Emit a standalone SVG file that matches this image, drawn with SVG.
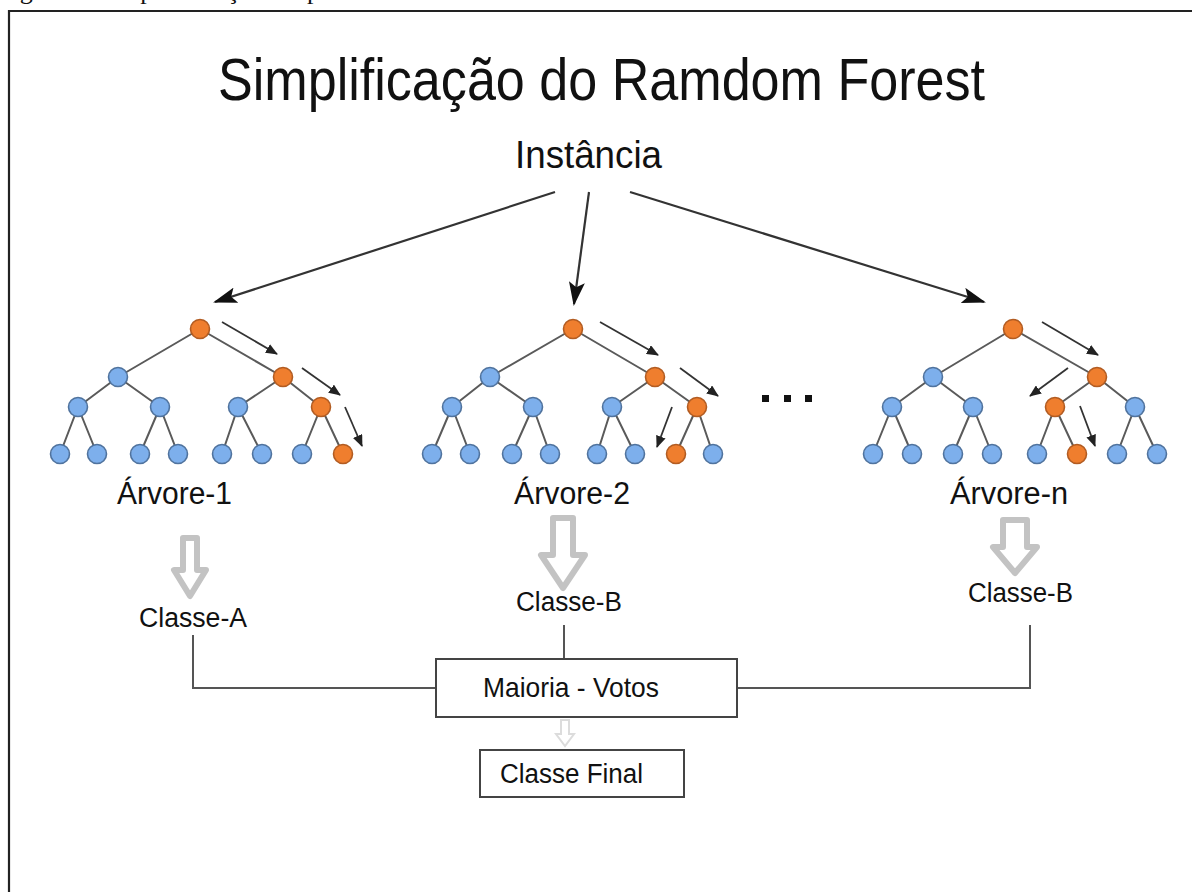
<svg xmlns="http://www.w3.org/2000/svg" width="1192" height="892" viewBox="0 0 1192 892">
<style>
  text { font-family: "Liberation Sans", Arial, sans-serif; fill: #111; }
  .cap { font-family: "Liberation Serif", "Times New Roman", serif; font-size: 26px; }
  .edge { stroke: #5a5a5a; stroke-width: 2; fill: none; }
  .b { fill: #7dafec; stroke: #50739e; stroke-width: 1.6; }
  .o { fill: #ef7e2e; stroke: #b25c22; stroke-width: 1.6; }
  .walk { stroke: #333; stroke-width: 1.8; fill: none; marker-end: url(#small); }
  .big { stroke: #333; stroke-width: 2.2; fill: none; marker-end: url(#head); }
  .hollow { fill: #fff; stroke: #c3c3c3; stroke-width: 6; stroke-linejoin: round; }
  .line { stroke: #555; stroke-width: 2; fill: none; }
  .box { fill: #fff; stroke: #444; stroke-width: 2; }
</style>
<defs>
  <marker id="head" viewBox="0 0 24 16" refX="22" refY="8" markerWidth="24" markerHeight="16" markerUnits="userSpaceOnUse" orient="auto">
    <path d="M0,0 L24,8 L0,16 L5,8 Z" fill="#111"/>
  </marker>
  <marker id="small" viewBox="0 0 12 10" refX="11" refY="5" markerWidth="12" markerHeight="10" markerUnits="userSpaceOnUse" orient="auto">
    <path d="M0,0 L12,5 L0,10 Z" fill="#222"/>
  </marker>
</defs>
<rect width="1192" height="892" fill="#fff"/>
<text class="cap" x="-2" y="-1">Figura 6 – Representação simplificada do método Random Forest</text>
<path d="M9,892 V11 H1192" fill="none" stroke="#222" stroke-width="2.2"/>

<g id="title"><text x="218" y="100" font-size="60" textLength="767" lengthAdjust="spacingAndGlyphs">Simplificação do Ramdom Forest</text></g>
<g id="instancia"><text x="515" y="168" font-size="38" textLength="147" lengthAdjust="spacingAndGlyphs">Instância</text></g>

<g id="connectors">
  <line class="big" x1="555" y1="192" x2="215" y2="302"/>
  <line class="big" x1="589" y1="192" x2="574" y2="304"/>
  <line class="big" x1="630" y1="192" x2="984" y2="302"/>
  <path class="line" d="M193,635 V688 H436"/>
  <path class="line" d="M564,625 V659"/>
  <path class="line" d="M1030,625 V688 H737"/>
</g>

<g id="tree-1">
  <path class="edge" d="M200,329 L118,377 M200,329 L283,377 M118,377 L78,407 M118,377 L160,407 M283,377 L238,407 M283,377 L321,407 M78,407 L60,454 M78,407 L97,454 M160,407 L140,454 M160,407 L178,454 M238,407 L222,454 M238,407 L262,454 M321,407 L302,454 M321,407 L343,454"/>
  <circle class="o" cx="200" cy="329" r="9.5"/>
  <circle class="b" cx="118" cy="377" r="9.5"/><circle class="o" cx="283" cy="377" r="9.5"/>
  <circle class="b" cx="78" cy="407" r="9.5"/><circle class="b" cx="160" cy="407" r="9.5"/><circle class="b" cx="238" cy="407" r="9.5"/><circle class="o" cx="321" cy="407" r="9.5"/>
  <circle class="b" cx="60" cy="454" r="9.5"/><circle class="b" cx="97" cy="454" r="9.5"/><circle class="b" cx="140" cy="454" r="9.5"/><circle class="b" cx="178" cy="454" r="9.5"/><circle class="b" cx="222" cy="454" r="9.5"/><circle class="b" cx="262" cy="454" r="9.5"/><circle class="b" cx="302" cy="454" r="9.5"/><circle class="o" cx="343" cy="454" r="9.5"/>
  <line class="walk" x1="222" y1="322" x2="277" y2="354"/>
  <line class="walk" x1="302" y1="368" x2="340" y2="395"/>
  <line class="walk" x1="345" y1="407" x2="362" y2="446"/>
  <text x="117" y="504" font-size="31" textLength="115" lengthAdjust="spacingAndGlyphs">Árvore-1</text>
</g>

<g id="tree-2">
  <path class="edge" d="M573,329 L490,377 M573,329 L655,377 M490,377 L452,407 M490,377 L533,407 M655,377 L612,407 M655,377 L697,407 M452,407 L432,454 M452,407 L470,454 M533,407 L512,454 M533,407 L550,454 M612,407 L597,454 M612,407 L635,454 M697,407 L676,454 M697,407 L713,454"/>
  <circle class="o" cx="573" cy="329" r="9.5"/>
  <circle class="b" cx="490" cy="377" r="9.5"/><circle class="o" cx="655" cy="377" r="9.5"/>
  <circle class="b" cx="452" cy="407" r="9.5"/><circle class="b" cx="533" cy="407" r="9.5"/><circle class="b" cx="612" cy="407" r="9.5"/><circle class="o" cx="697" cy="407" r="9.5"/>
  <circle class="b" cx="432" cy="454" r="9.5"/><circle class="b" cx="470" cy="454" r="9.5"/><circle class="b" cx="512" cy="454" r="9.5"/><circle class="b" cx="550" cy="454" r="9.5"/><circle class="b" cx="597" cy="454" r="9.5"/><circle class="b" cx="635" cy="454" r="9.5"/><circle class="o" cx="676" cy="454" r="9.5"/><circle class="b" cx="713" cy="454" r="9.5"/>
  <line class="walk" x1="600" y1="322" x2="658" y2="355"/>
  <line class="walk" x1="680" y1="368" x2="718" y2="396"/>
  <line class="walk" x1="672" y1="407" x2="657" y2="447"/>
  <text x="514" y="504" font-size="31" textLength="116" lengthAdjust="spacingAndGlyphs">Árvore-2</text>
</g>

<g id="ellipsis">
  <rect x="762" y="395" width="7" height="7" fill="#111"/>
  <rect x="784" y="395" width="7" height="7" fill="#111"/>
  <rect x="805" y="395" width="7" height="7" fill="#111"/>
</g>

<g id="tree-n">
  <path class="edge" d="M1013,329 L933,377 M1013,329 L1097,377 M933,377 L892,407 M933,377 L973,407 M1097,377 L1055,407 M1097,377 L1135,407 M892,407 L873,454 M892,407 L912,454 M973,407 L953,454 M973,407 L992,454 M1055,407 L1037,454 M1055,407 L1077,454 M1135,407 L1117,454 M1135,407 L1157,454"/>
  <circle class="o" cx="1013" cy="329" r="9.5"/>
  <circle class="b" cx="933" cy="377" r="9.5"/><circle class="o" cx="1097" cy="377" r="9.5"/>
  <circle class="b" cx="892" cy="407" r="9.5"/><circle class="b" cx="973" cy="407" r="9.5"/><circle class="o" cx="1055" cy="407" r="9.5"/><circle class="b" cx="1135" cy="407" r="9.5"/>
  <circle class="b" cx="873" cy="454" r="9.5"/><circle class="b" cx="912" cy="454" r="9.5"/><circle class="b" cx="953" cy="454" r="9.5"/><circle class="b" cx="992" cy="454" r="9.5"/><circle class="b" cx="1037" cy="454" r="9.5"/><circle class="o" cx="1077" cy="454" r="9.5"/><circle class="b" cx="1117" cy="454" r="9.5"/><circle class="b" cx="1157" cy="454" r="9.5"/>
  <line class="walk" x1="1042" y1="322" x2="1098" y2="355"/>
  <line class="walk" x1="1068" y1="368" x2="1030" y2="396"/>
  <line class="walk" x1="1080" y1="406" x2="1095" y2="446"/>
  <text x="950" y="504" font-size="31" textLength="118" lengthAdjust="spacingAndGlyphs">Árvore-n</text>
</g>

<g id="classe-a">
  <path class="hollow" d="M183,538 H197 V570 H206 L190,596 L174,570 H183 Z"/>
  <text x="139" y="627" font-size="27" textLength="108" lengthAdjust="spacingAndGlyphs">Classe-A</text>
</g>
<g id="classe-b-2">
  <path class="hollow" d="M553,518 H573 V555 H585 L563,588 L541,555 H553 Z"/>
  <text x="516" y="611" font-size="27" textLength="106" lengthAdjust="spacingAndGlyphs">Classe-B</text>
</g>
<g id="classe-b-n">
  <path class="hollow" d="M1003,520 H1027 V547 H1037 L1015,573 L993,547 H1003 Z"/>
  <text x="968" y="602" font-size="27" textLength="105" lengthAdjust="spacingAndGlyphs">Classe-B</text>
</g>

<g id="maioria-votos">
  <rect class="box" x="436" y="659" width="301" height="58"/>
  <text x="483" y="697" font-size="28" textLength="176" lengthAdjust="spacingAndGlyphs">Maioria - Votos</text>
</g>
<path d="M561,720 H569 V734 H574 L565,746 L556,734 H561 Z" fill="#fff" stroke="#dcdcdc" stroke-width="2"/>
<g id="classe-final">
  <rect class="box" x="480" y="750" width="204" height="47"/>
  <text x="500" y="783" font-size="27" textLength="143" lengthAdjust="spacingAndGlyphs">Classe Final</text>
</g>
</svg>
